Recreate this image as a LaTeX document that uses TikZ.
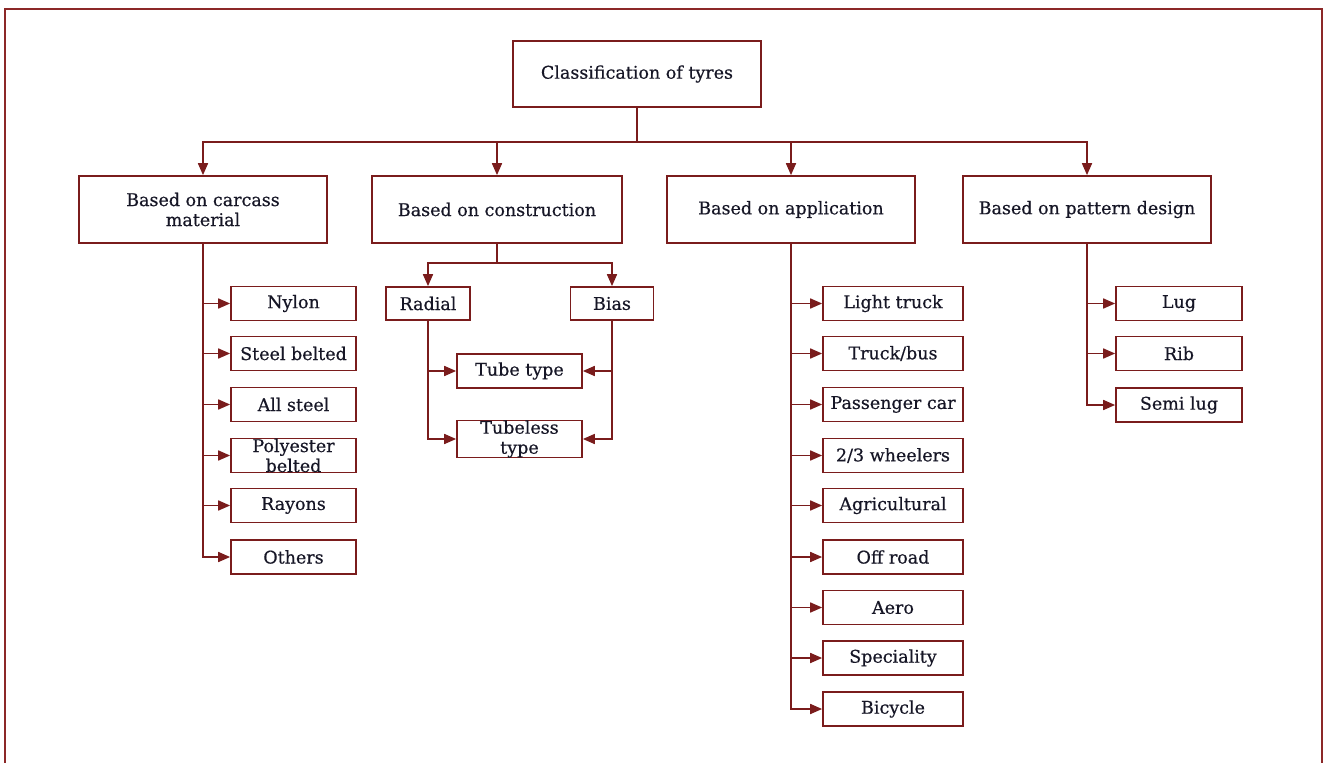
\documentclass[tikz,border=0pt]{standalone}
\usepackage{fontspec}
\setmainfont{DejaVu Serif}[FakeBold=0.45]
\usetikzlibrary{arrows.meta}
\definecolor{linecol}{RGB}{122,28,28}
\definecolor{framecol}{RGB}{140,40,40}
\definecolor{txtcol}{RGB}{22,22,38}
\tikzset{
  every node/.style={text=txtcol, font=\fontsize{17.5}{20}\selectfont},
  box/.style={draw=linecol, line width=1.7pt, fill=white, inner sep=0pt, align=center},
  bigbox/.style={box, minimum width=248pt, minimum height=67pt},
  leafbox/.style={box, minimum width=125pt, minimum height=34pt},
  appbox/.style={box, minimum width=140pt, minimum height=34pt},
  smallbox/.style={box, minimum width=84pt, minimum height=33pt},
  arr/.style={draw=linecol, line width=1.7pt, -{Triangle[length=12pt,width=10pt]}},
}
\begin{document}
\begin{tikzpicture}[x=1pt, y=-1pt]
\useasboundingbox (0,0) rectangle (1326,763);
% outer frame (open at the bottom)
\draw[framecol, line width=2.2pt] (5,763) -- (5,9) -- (1322,9) -- (1322,763);

% root and first level
\node[bigbox, minimum height=66pt] (root) at (637,74) {Classification of tyres};
\node[bigbox] (carc) at (203,209.5) {Based on carcass\\material};
\node[bigbox, minimum width=250pt] (cons) at (497,209.5) {Based on construction};
\node[bigbox] (appl) at (791,209.5) {Based on application};
\node[bigbox] (patt) at (1087,209.5) {Based on pattern design};

\coordinate (bus) at (637,142);
\draw[arr] (root.south) -- (bus) -| (carc.north);
\draw[arr] (bus) -| (cons.north);
\draw[arr] (bus) -| (appl.north);
\draw[arr] (bus) -| (patt.north);

% carcass material
\node[leafbox] (nylon) at (293.5,303.5) {Nylon};
\node[leafbox] (steelb) at (293.5,353.5) {Steel belted};
\node[leafbox] (allst) at (293.5,404.5) {All steel};
\node[leafbox] (polyb) at (293.5,455.5) {Polyester\\belted};
\node[leafbox] (rayon) at (293.5,505.5) {Rayons};
\node[leafbox] (othr) at (293.5,557) {Others};
\foreach \n in {nylon,steelb,allst,polyb,rayon,othr}
  \draw[arr] (carc.south) |- (\n.west);

% construction
\node[smallbox] (radial) at (428,303.5) {Radial};
\node[smallbox, minimum width=83pt] (bias) at (612,303.5) {Bias};
\node[leafbox] (tube) at (519.5,371) {Tube type};
\node[leafbox] (tubeless) at (519.5,439) {Tubeless\\type};
\coordinate (cbus) at (497,263);
\draw[arr] (cons.south) -- (cbus) -| (radial.north);
\draw[arr] (cbus) -| (bias.north);
\draw[arr] (radial.south) |- (tube.west);
\draw[arr] (radial.south) |- (tubeless.west);
\draw[arr] (bias.south) |- (tube.east);
\draw[arr] (bias.south) |- (tubeless.east);

% application
\node[appbox] (ltruck) at (893,303.5) {Light truck};
\node[appbox] (truck) at (893,353.5) {Truck/bus};
\node[appbox] (pcar) at (893,404.5) {Passenger car};
\node[appbox] (wheel) at (893,455.5) {2/3 wheelers};
\node[appbox] (agri) at (893,505.5) {Agricultural};
\node[appbox] (offr) at (893,557) {Off road};
\node[appbox] (aero) at (893,607.5) {Aero};
\node[appbox] (spec) at (893,658) {Speciality};
\node[appbox] (bicy) at (893,709) {Bicycle};
\foreach \n in {ltruck,truck,pcar,wheel,agri,offr,aero,spec,bicy}
  \draw[arr] (appl.south) |- (\n.west);

% pattern design
\node[leafbox, minimum width=126pt] (lug) at (1179,303.5) {Lug};
\node[leafbox, minimum width=126pt] (rib) at (1179,353.5) {Rib};
\node[leafbox, minimum width=126pt] (semi) at (1179,405) {Semi lug};
\foreach \n in {lug,rib,semi}
  \draw[arr] (patt.south) |- (\n.west);
\end{tikzpicture}
\end{document}
